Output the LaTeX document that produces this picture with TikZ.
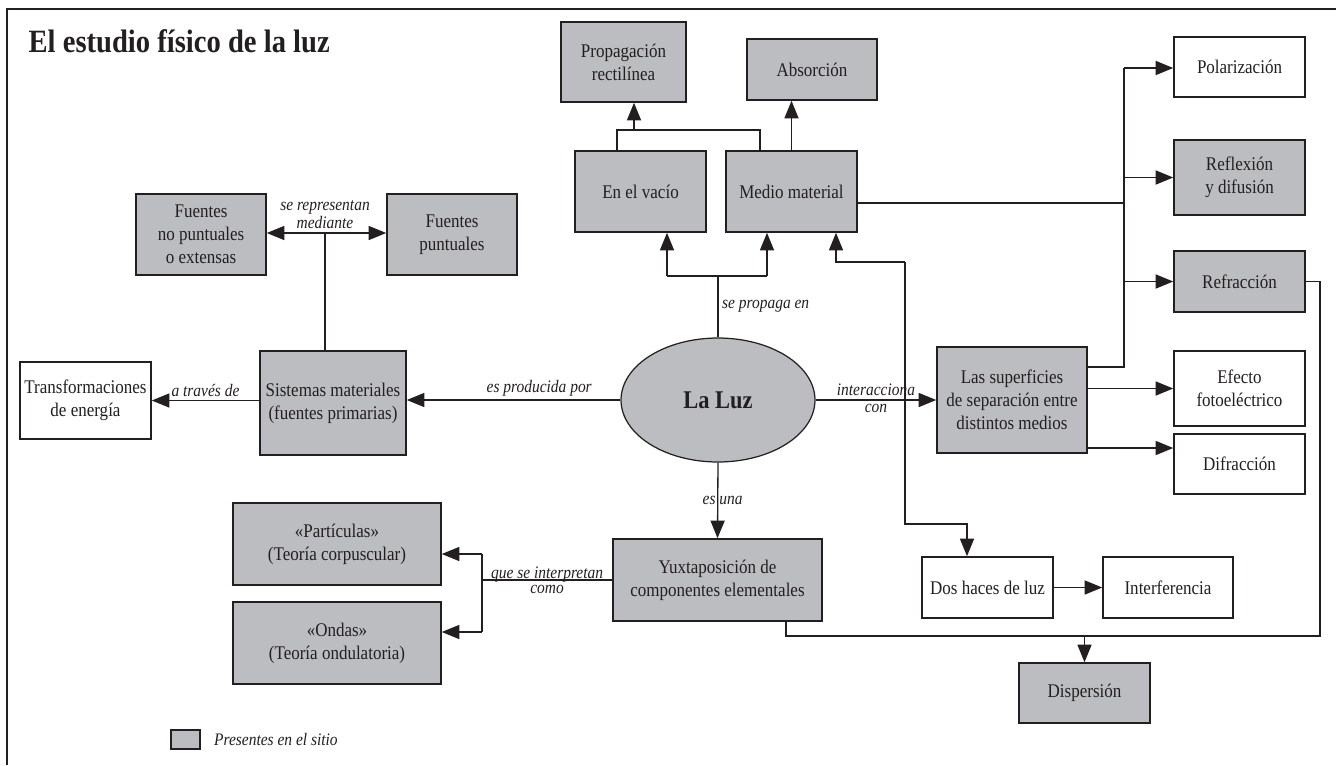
\documentclass[tikz,border=0pt]{standalone}
\usepackage{fontspec}
\setmainfont{Liberation Serif}[FakeStretch=0.88]
\usetikzlibrary{arrows.meta,shapes.geometric}
\definecolor{caja}{RGB}{188,189,192}
\definecolor{tinta}{RGB}{35,31,32}
\newcommand{\txtcaja}{\fontsize{11}{13}\selectfont}
\newcommand{\txtlab}{\fontsize{10}{8.5}\selectfont\itshape}
\begin{document}
\begin{tikzpicture}[x=0.02cm,y=-0.02cm,>={Triangle[length=10pt,width=8pt]},
	line width=0.75pt,color=tinta,font=\txtcaja,
	caja/.style={draw,fill=caja,line width=0.9pt,inner sep=0pt,align=center},
	blanca/.style={draw,fill=white,line width=0.9pt,inner sep=0pt,align=center},
	lab/.style={font=\txtlab,inner sep=2pt,align=center}]
	\useasboundingbox (0,0) rectangle (1336,765);
	\draw (7,765) -- (7,9) -- (1336,9);
	\node[font=\fontsize{18.5}{20}\selectfont\bfseries,anchor=base west,inner sep=0pt] (titulo) at (28,52) {El estudio físico de la luz};
	% cajas
	\node[caja,minimum width=2.5cm,minimum height=1.6cm] (prop) at (623.5,62) {Propagación\\rectilínea};
	\node[caja,minimum width=2.6cm,minimum height=1.22cm] (abs) at (812,69.5) {Absorción};
	\node[caja,minimum width=2.62cm,minimum height=1.62cm] (vacio) at (640.5,191.5) {En el vacío};
	\node[caja,minimum width=2.62cm,minimum height=1.62cm] (medio) at (791.5,191.5) {Medio material};
	\node[caja,minimum width=2.6cm,minimum height=1.62cm] (fnp) at (201,234.5) {Fuentes\\no puntuales\\o extensas};
	\node[caja,minimum width=2.6cm,minimum height=1.62cm] (fp) at (452,234.5) {Fuentes\\puntuales};
	\node[blanca,minimum width=2.62cm,minimum height=1.54cm] (trans) at (85.5,400.5) {Transformaciones\\de energía};
	\node[caja,minimum width=2.92cm,minimum height=2.08cm] (sist) at (333,403) {Sistemas materiales\\(fuentes primarias)};
	\node[caja,ellipse,line width=0.7pt,minimum width=3.88cm,minimum height=2.48cm,font=\fontsize{14.5}{17}\selectfont\bfseries] (luz) at (718,400) {La Luz};
	\node[caja,minimum width=3cm,minimum height=2.12cm] (sup) at (1012,400) {Las superficies\\de separación entre\\distintos medios};
	\node[blanca,minimum width=2.62cm,minimum height=1.2cm] (pol) at (1239.5,67) {Polarización};
	\node[caja,minimum width=2.62cm,minimum height=1.5cm] (refl) at (1239.5,177.5) {Reflexión\\y difusión};
	\node[caja,minimum width=2.62cm,minimum height=1.22cm] (refr) at (1239.5,281.5) {Refracción};
	\node[blanca,minimum width=2.62cm,minimum height=1.5cm] (efecto) at (1239.5,388.5) {Efecto\\fotoeléctrico};
	\node[blanca,minimum width=2.62cm,minimum height=1.2cm] (difr) at (1239.5,464) {Difracción};
	\node[caja,minimum width=4.18cm,minimum height=1.64cm] (yuxt) at (717.5,580) {Yuxtaposición de\\componentes elementales};
	\node[caja,minimum width=4.16cm,minimum height=1.64cm] (part) at (337,544) {«Partículas»\\(Teoría corpuscular)};
	\node[caja,minimum width=4.16cm,minimum height=1.64cm] (ondas) at (337,643) {«Ondas»\\(Teoría ondulatoria)};
	\node[blanca,minimum width=2.62cm,minimum height=1.22cm] (dos) at (987.5,587.5) {Dos haces de luz};
	\node[blanca,minimum width=2.6cm,minimum height=1.22cm] (interf) at (1168,587.5) {Interferencia};
	\node[caja,minimum width=2.62cm,minimum height=1.2cm] (disp) at (1084.5,693) {Dispersión};
	% leyenda
	\node[caja,minimum width=0.58cm,minimum height=0.38cm] (ley) at (185.5,739.5) {};
	\node[lab,anchor=west,font=\fontsize{10}{11}\selectfont\itshape] (leytxt) at (210,739) {Presentes en el sitio};
	% puntos de paso
	\coordinate (va) at (617,130);
	\coordinate (vb) at (760,130);
	\coordinate (vc) at (634,130);
	\coordinate (pv) at (667,276);
	\coordinate (pm) at (767,276);
	\coordinate (ca) at (905,262);
	\coordinate (mi) at (836,262);
	\coordinate (cb) at (967,524);
	\coordinate (bm) at (1124,203);
	\coordinate (rtop) at (1124,68);
	\coordinate (rbot) at (1124,367);
	\coordinate (jd) at (1150,448);
	\coordinate (dr) at (1320,636);
	\coordinate (dl) at (786,636);
	\coordinate (fj) at (325,233);
	\coordinate (kt) at (482,554);
	\coordinate (kb) at (482,632);
	% conectores
	\draw (vacio.north -| va) |- (vb) -- (medio.north -| vb);
	\draw[->] (vc) -- (prop.south -| vc);
	\draw[->] (medio.north) -- (abs.south -| medio.north);
	\draw (luz.north) -- (luz.north |- pv) node[lab,midway,right] {se propaga en};
	\draw (pv) -- (pm);
	\draw[->] (pv) -- (vacio.south -| pv);
	\draw[->] (pm) -- (medio.south -| pm);
	\draw[->] (ca) -- (mi) -- (medio.south -| mi);
	\draw[->] (ca) |- (cb) -- (dos.north -| cb);
	\draw[->] (luz.east) -- (sup.west |- luz.east)
		node[lab,midway,above] {interacciona} node[lab,midway,below] {con};
	\draw (medio.east |- bm) -- (bm);
	\draw (rtop) -- (rbot) -- (sup.east |- rbot);
	\draw[->] (rtop) -- (pol.west |- rtop);
	\draw[->] (rtop |- refl.west) -- (refl.west);
	\draw[->] (rtop |- refr.west) -- (refr.west);
	\draw[->] (sup.east |- efecto.west) -- (efecto.west);
	\draw[->] (sup.east |- jd) -- (difr.west |- jd);
	\draw (refr.east) -| (dr) -- (dl) -- (yuxt.south -| dl);
	\draw[->] (disp.north |- dr) -- (disp.north);
	\draw[->] (dos.east) -- (interf.west);
	\draw[->] (luz.west) -- (sist.east |- luz.west) node[lab,pos=0.38,above] {es producida por};
	\draw[->] (sist.west |- trans.east) -- (trans.east) node[lab,midway,above] {a través de};
	\draw (sist.north -| fj) -- (fj);
	\draw[<->] (fnp.east |- fj) -- (fp.west |- fj);
	\node[lab,anchor=south] (fjtxt) at (fj) {se representan\\mediante};
	\draw[->] (luz.south) -- (yuxt.north) node[lab,midway,xshift=2.8pt] {es una};
	\draw (yuxt.west) -- (yuxt.west -| kt) node[lab,midway] {que se interpretan\\como};
	\draw (kt) -- (kb);
	\draw[->] (kt) -- (part.east |- kt);
	\draw[->] (kb) -- (ondas.east |- kb);
\end{tikzpicture}
\end{document}
